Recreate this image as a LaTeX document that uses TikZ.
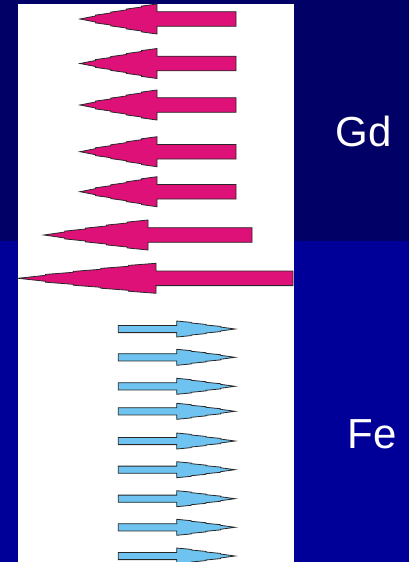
\documentclass[tikz,border=0pt]{standalone}
\usepackage{fontspec}
\setmainfont{Liberation Sans}
\definecolor{navy}{RGB}{0,0,102}
\definecolor{royal}{RGB}{0,0,153}
\definecolor{gdpink}{RGB}{221,17,119}
\definecolor{feblue}{RGB}{110,195,240}
\definecolor{edgegray}{RGB}{40,40,40}
\tikzset{
  gdarrow/.style={fill=gdpink, draw=edgegray, line width=0.8pt, line join=miter},
  fearrow/.style={fill=feblue, draw=edgegray, line width=0.8pt, line join=miter},
  elemtext/.style={text=white, font=\fontsize{42}{42}\selectfont, inner sep=0pt, anchor=base}
}
% #1 style, #2 centre y, #3 tip x, #4 head base x, #5 tail x, #6 head half height, #7 shaft half height, #8 steps
\newcommand\spinarrow[8]{%
  \pgfmathtruncatemacro\nlast{#8-1}%
  \path[#1] (#5,{#2-#7}) -- (#4,{#2-#7}) -- (#4,{#2-#6})
    \foreach \i in {1,...,\nlast}{
      -- ({#4+(#3-#4)*\i/#8},{#2-#6*(1-(\i-1)/#8)+0.7*#6/#8})
      -- ({#4+(#3-#4)*\i/#8},{#2-#6*(1-\i/#8)})
    }
    -- (#3,#2)
    \foreach \i in {\nlast,...,1}{
      -- ({#4+(#3-#4)*\i/#8},{#2+#6*(1-\i/#8)})
      -- ({#4+(#3-#4)*\i/#8},{#2+#6*(1-(\i-1)/#8)-0.7*#6/#8})
    }
    -- (#4,{#2+#6}) -- (#4,{#2+#7}) -- (#5,{#2+#7}) -- cycle;%
}
\begin{document}
\begin{tikzpicture}[x=1pt,y=-1pt]
\useasboundingbox (0,0) rectangle (409,562);
% background
\fill[navy] (0,0) rectangle (409,241);
\fill[royal] (0,241) rectangle (409,562);
\fill[white] (18,4) rectangle (294,562);
% Gd moments
\spinarrow{gdarrow}{19}{80}{157}{236}{15}{7.3}{5}
\spinarrow{gdarrow}{63.5}{80}{157}{236}{15}{7.3}{5}
\spinarrow{gdarrow}{105}{80}{157}{236}{15}{7.3}{5}
\spinarrow{gdarrow}{151.7}{80}{157}{236}{15}{7.3}{5}
\spinarrow{gdarrow}{191.7}{80}{157}{236}{15}{7.3}{5}
\spinarrow{gdarrow}{235}{44}{148}{252}{15}{7.3}{5}
\spinarrow{gdarrow}{278.3}{18}{156}{293}{15}{7.3}{5}
% Fe moments
\foreach \cy in {329,357.3,386.3,411.3,441,469.7,498.7,527.3,556}{
  \spinarrow{fearrow}{\cy}{235}{176.7}{118.3}{8}{3.6}{4}
}
% labels
\node[elemtext] (gd) at (364,146) {Gd};
\node[elemtext] (fe) at (372,448.5) {Fe};
\end{tikzpicture}
\end{document}
